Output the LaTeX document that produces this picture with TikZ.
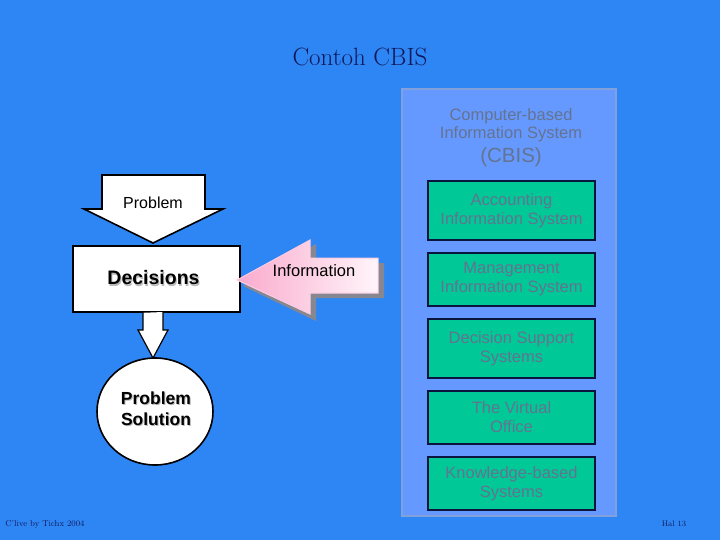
\documentclass[tikz,border=0pt]{standalone}
\usepackage{fontspec}
\setsansfont{Liberation Sans}
\usetikzlibrary{shapes.geometric,shadows}
\definecolor{bgblue}{RGB}{46,134,245}
\definecolor{panelblue}{RGB}{102,153,255}
\definecolor{panelline}{RGB}{130,160,220}
\definecolor{boxgreen}{RGB}{0,200,150}
\definecolor{navy}{RGB}{10,20,60}
\definecolor{graytext}{RGB}{100,115,145}
\definecolor{titlecol}{RGB}{15,25,90}
\definecolor{pinkA}{RGB}{250,170,205}
\definecolor{pinkB}{RGB}{255,245,250}
\definecolor{shadowgray}{RGB}{135,135,145}
\tikzset{
  sysbox/.style={draw=navy, line width=1.6pt, fill=boxgreen, minimum width=167pt,
    text=graytext, font=\sffamily\fontsize{16.5}{19}\selectfont, align=center, inner sep=0pt},
  whiteshape/.style={draw=black, line width=1.6pt, fill=white},
  boldlab/.style={font=\sffamily\bfseries\fontsize{17.5}{21}\selectfont, align=center}
}
\begin{document}
\begin{tikzpicture}[x=1pt,y=-1pt]
\useasboundingbox (0,0) rectangle (720,540);
\fill[bgblue] (0,0) rectangle (720,540);
% title
\node[text=titlecol, font=\fontsize{25}{28}\selectfont] (title) at (360,57) {Contoh CBIS};
% panel
\node[draw=panelline, line width=1.5pt, fill=panelblue, minimum width=214pt, minimum height=427pt, inner sep=0pt] (panel) at (509,302.5) {};
\node[text=graytext, font=\sffamily\fontsize{16.5}{18}\selectfont, align=center] (cbis) at (511,125) {Computer-based\\Information System};
\node[text=graytext, font=\sffamily\fontsize{20.5}{22}\selectfont] (cbisab) at (511,157) {(CBIS)};
% system boxes
\node[sysbox, minimum height=59pt] (ais) at (511.5,210.5) {Accounting\\Information System};
\node[sysbox, minimum height=53pt] (mis) at (511.5,279.5) {Management\\Information System};
\node[sysbox, minimum height=59pt] (dss) at (511.5,348.5) {Decision Support\\Systems};
\node[sysbox, minimum height=53pt] (vo) at (511.5,417.5) {The Virtual\\Office};
\node[sysbox, minimum height=53pt] (kbs) at (511.5,483.5) {Knowledge-based\\Systems};
% problem arrow
\draw[whiteshape] (102,175) -- (205,175) -- (205,209) -- (223,209) -- (153,243) -- (84,209) -- (102,209) -- cycle;
\node[font=\sffamily\fontsize{16}{18}\selectfont] (prob) at (153,203) {Problem};
% decisions
\node[whiteshape, minimum width=167pt, minimum height=66pt, inner sep=0pt] (dec) at (156.5,279) {};
\node[boldlab, text=gray!55, font=\sffamily\bfseries\fontsize{19.5}{22}\selectfont] at (154.5,279.5) {Decisions};
\node[boldlab, font=\sffamily\bfseries\fontsize{19.5}{22}\selectfont] (declab) at (153.5,278) {Decisions};
% small arrow
\draw[whiteshape, line width=1.2pt] (dec.south -| 143,0) -- (143,330) -- (138,330) -- (153,358) -- (168,330) -- (163,330) -- (163,312) ;
% solution ellipse
\node[whiteshape, ellipse, minimum width=116pt, minimum height=107pt, inner sep=0pt] (sol) at (155,411.5) {};
\node[boldlab, text=gray!55] at (157,410) {Problem\\Solution};
\node[boldlab] (sollab) at (156,409) {Problem\\Solution};
% information arrow shadow
\fill[shadowgray] (243,286) -- (316,244) -- (316,263) -- (384,263) -- (384,298) -- (316,298) -- (316,321) -- cycle;
\shade[left color=pinkA, right color=pinkB, draw=pinkA!60!white, line width=1pt]
  (237,280) -- (310,240) -- (310,258) -- (378,258) -- (378,293) -- (310,293) -- (310,314) -- cycle;
\node[font=\sffamily\fontsize{16.5}{18}\selectfont] (info) at (314,271) {Information};
% footer
\node[text=titlecol, font=\fontsize{8.5}{10}\selectfont] (foot) at (45,524) {C'live by Tichx 2004};
\node[text=titlecol, font=\fontsize{8}{10}\selectfont] (page) at (674,524) {Hal 13};
\end{tikzpicture}
\end{document}
